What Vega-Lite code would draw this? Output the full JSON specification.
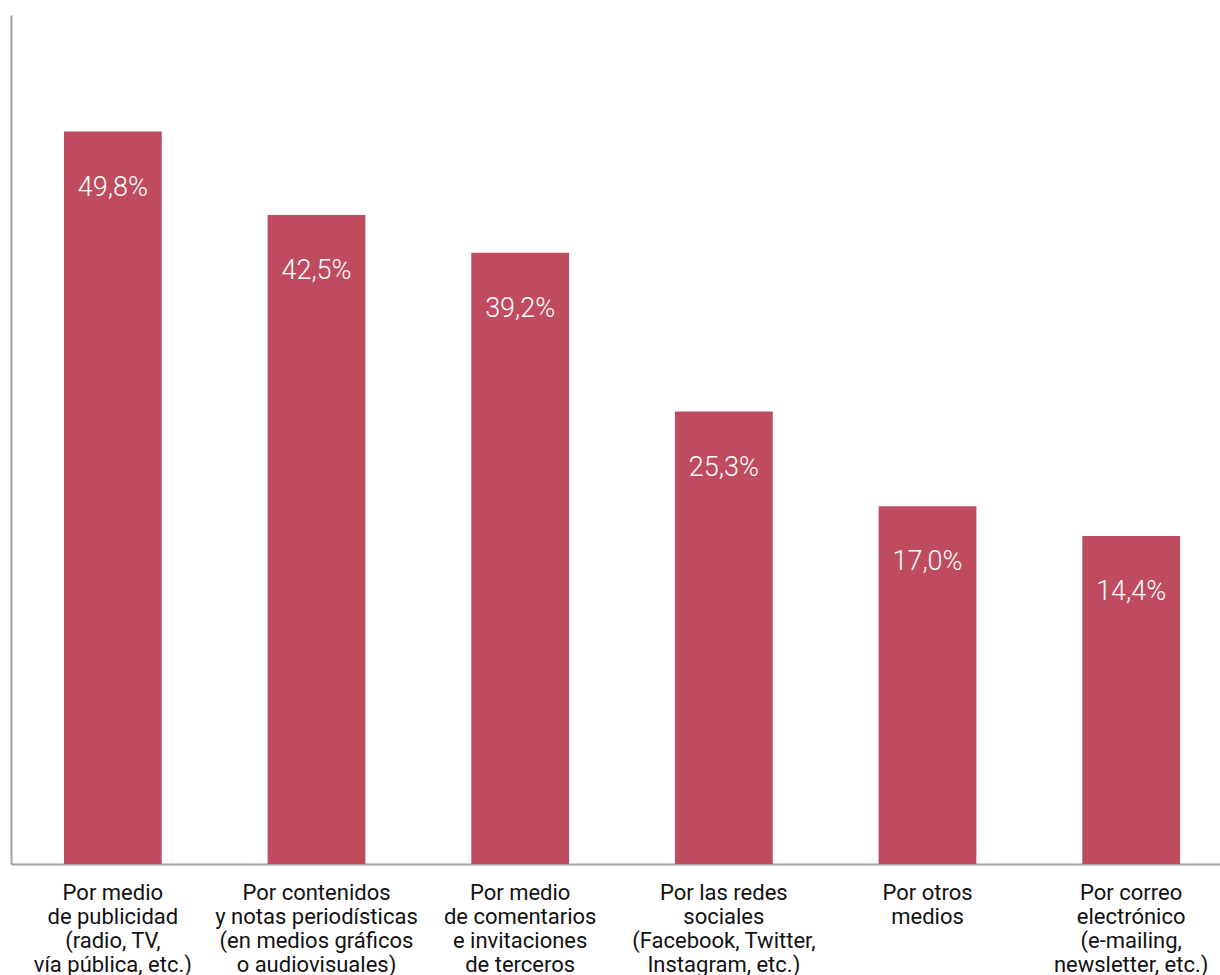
{
  "$schema": "https://vega.github.io/schema/vega-lite/v6.json",
  "width": 1222,
  "height": 849,
  "autosize": {"type": "none"},
  "padding": {"left": 11, "top": 15, "right": 0, "bottom": 111},
  "background": "white",
  "config": {"view": {"stroke": null}},
  "data": {"values": [
    {"cat": "Por medio|de publicidad|(radio, TV,|vía pública, etc.)", "pct": 49.8, "label": "49,8%"},
    {"cat": "Por contenidos|y notas periodísticas|(en medios gráficos|o audiovisuales)", "pct": 42.5, "label": "42,5%"},
    {"cat": "Por medio|de comentarios|e invitaciones|de terceros", "pct": 39.2, "label": "39,2%"},
    {"cat": "Por las redes|sociales|(Facebook, Twitter,|Instagram, etc.)", "pct": 25.3, "label": "25,3%"},
    {"cat": "Por otros|medios", "pct": 17.0, "label": "17,0%"},
    {"cat": "Por correo|electrónico|(e-mailing,|newsletter, etc.)", "pct": 14.4, "label": "14,4%"}
  ]},
  "encoding": {
    "x": {
      "field": "cat", "type": "nominal", "sort": null,
      "scale": {"paddingInner": 0.52, "paddingOuter": 0.26},
      "axis": {
        "title": null, "labelAngle": 0, "ticks": false,
        "domainColor": "#a0a0a0", "domainWidth": 2,
        "labelExpr": "split(datum.label, '|')",
        "labelFont": "Roboto", "labelFontSize": 22, "labelColor": "#111111",
        "labelLineHeight": 24, "labelPadding": 18, "labelBaseline": "top",
        "labelLimit": 0
      }
    },
    "y": {
      "field": "pct", "type": "quantitative",
      "scale": {"domain": [-14.3, 60], "zero": false, "nice": false},
      "axis": {"title": null, "labels": false, "ticks": false, "grid": false,
        "domainColor": "#a0a0a0", "domainWidth": 2}
    }
  },
  "layer": [
    {"mark": {"type": "bar", "color": "#bf4b5e"},
     "encoding": {"y2": {"datum": -14.3}}},
    {"mark": {"type": "text", "color": "white", "font": "Roboto", "fontSize": 27, "fontWeight": 300, "baseline": "middle", "dy": 56},
     "encoding": {"text": {"field": "label"}}}
  ]
}
